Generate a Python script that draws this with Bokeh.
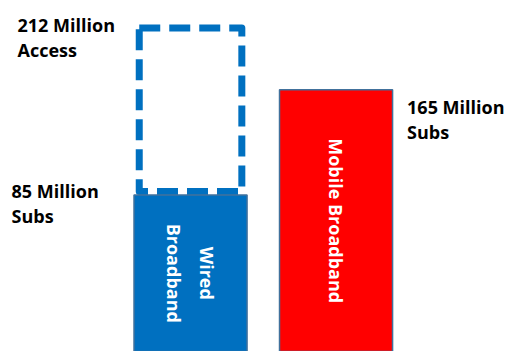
from bokeh.plotting import figure
from bokeh.models import Range1d, ColumnDataSource
from bokeh.core.properties import value
from bokeh.embed import file_html
from bokeh.resources import INLINE

# ---- data ----
categories = ["Wired Broadband", "Mobile Broadband"]
bar_texts = ["Wired\nBroadband", "Mobile Broadband"]
subscribers_m = [85, 165]          # million subscribers
wired_access_m = 212               # million homes with wired access
sub_value_labels = ["85 Million", "165 Million"]
sub_unit_labels = ["Subs", "Subs"]
access_value_label = "212 Million"
access_unit_label = "Access"
bar_colors = ["#0070C0", "#FF0000"]

# ---- layout ----
W, H = 509, 351
y_start, y_end = -33.9, 232.9
x_start, x_end = -1.306, 2.192
px_per_unit_y = H / (y_end - y_start)
xs = list(range(len(categories)))
bar_w = 0.777
box_w = 0.705
box_lw = 7

p = figure(width=W, height=H, output_backend="svg", toolbar_location=None,
           x_range=Range1d(x_start, x_end), y_range=Range1d(y_start, y_end),
           min_border=0, outline_line_color=None)
p.axis.visible = False
p.grid.visible = False
p.background_fill_color = "white"
p.border_fill_color = "white"

# dashed access outline above the wired bar (sits just on top of the bar)
lift = (box_lw / 2) / px_per_unit_y
p.quad(left=[xs[0] - box_w / 2], right=[xs[0] + box_w / 2],
       bottom=[subscribers_m[0] + lift], top=[wired_access_m],
       fill_color=None, line_color="#0070C0", line_width=box_lw,
       line_dash="21 9", line_join="round")

src = ColumnDataSource(dict(x=xs, top=subscribers_m, color=bar_colors,
                            label=bar_texts,
                            mid=[(y_start + t) / 2 for t in subscribers_m]))
p.vbar(x="x", top="top", bottom=y_start, width=bar_w, fill_color="color",
       line_color="#41719C", line_width=1.5, source=src)

# rotated text inside bars
p.text(x="x", y="mid", text="label", source=src, angle=-1.5708,
       text_align="center", text_baseline="middle", text_color="white",
       text_font=value("Open Sans"), text_font_style="bold",
       text_font_size="18px", text_line_height=1.39)

font = dict(text_font=value("Open Sans"), text_font_style="bold",
            text_font_size="18px", text_color="black",
            text_align="left", text_baseline="alphabetic")

# labels: subscriber counts
x_offs = [-179, 71]
y_offs = [-4, 17]
for i in range(len(categories)):
    p.text(x=[xs[i]], y=[subscribers_m[i]], text=[sub_value_labels[i]],
           x_offset=x_offs[i], y_offset=y_offs[i], **font)
    p.text(x=[xs[i]], y=[subscribers_m[i]], text=[sub_unit_labels[i]],
           x_offset=x_offs[i], y_offset=y_offs[i] + 25, **font)

# label: access
p.text(x=[xs[0]], y=[wired_access_m], text=[access_value_label],
       x_offset=-173, y_offset=-2.5, **font)
p.text(x=[xs[0]], y=[wired_access_m], text=[access_unit_label],
       x_offset=-173, y_offset=22.5, **font)

open("out.html", "w").write(file_html(p, INLINE))
